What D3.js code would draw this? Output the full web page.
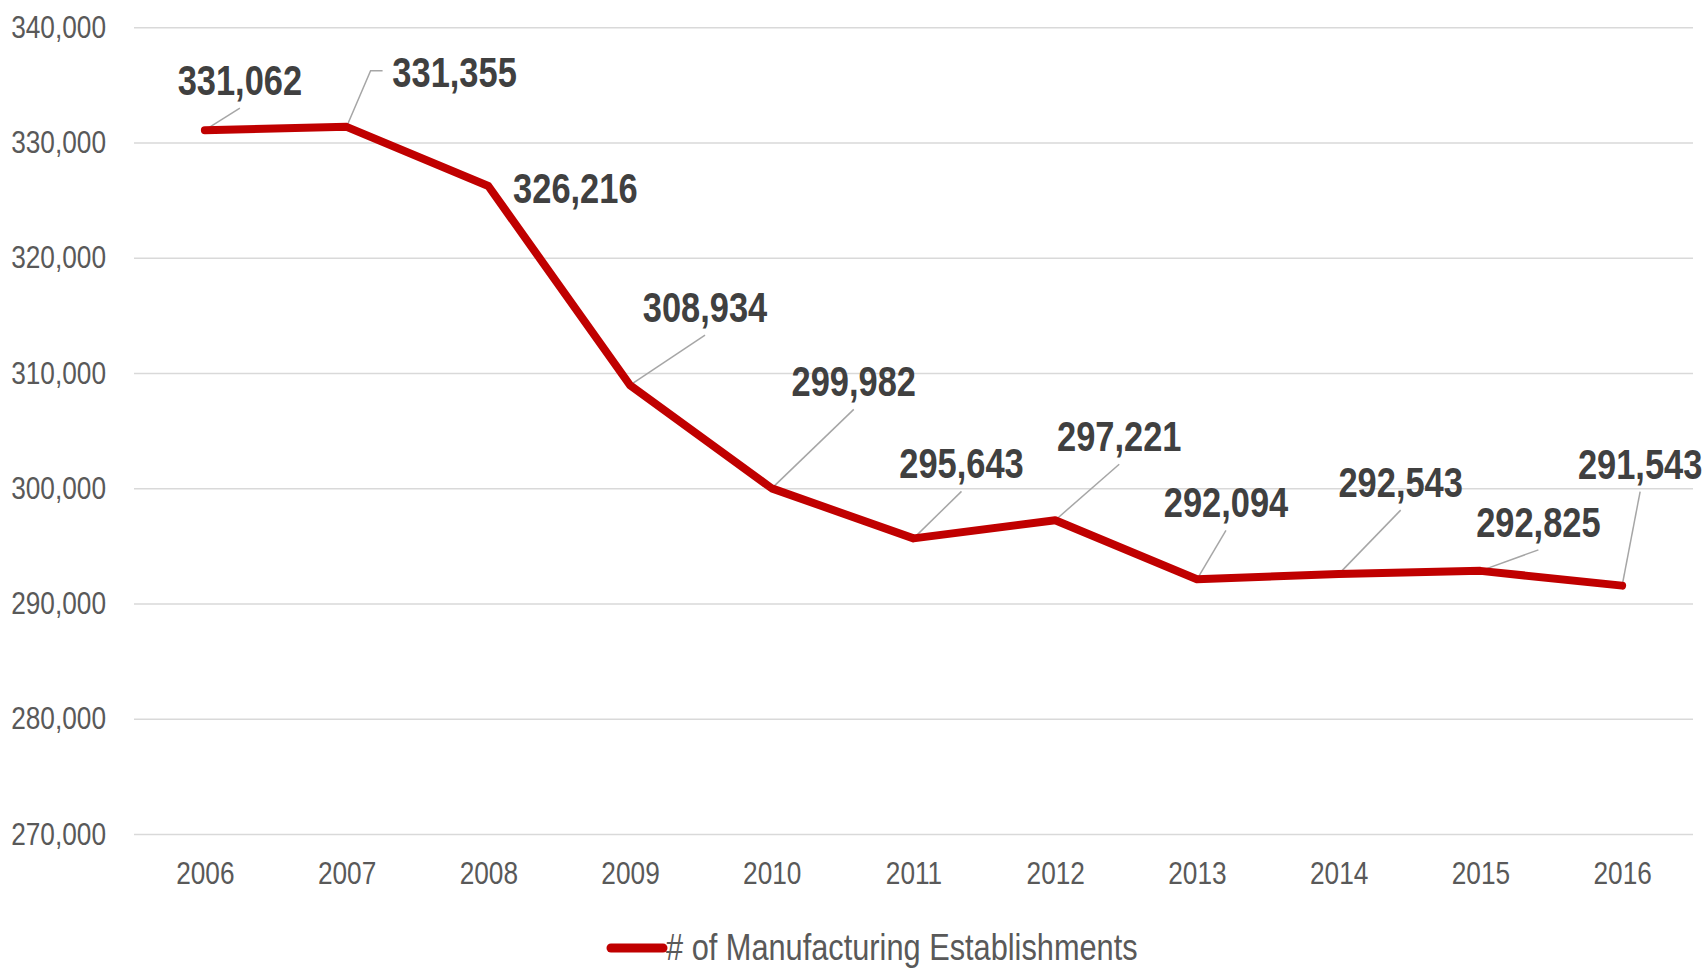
<!DOCTYPE html>
<html><head><meta charset="utf-8">
<script src="https://cdn.jsdelivr.net/npm/d3@7"></script>
<style>body{margin:0;background:#fff;} svg{display:block}</style>
</head><body><svg id="chart" width="1707" height="969"></svg>
<script>
// ---- data ----
const years = ["2006","2007","2008","2009","2010","2011","2012","2013","2014","2015","2016"];
const values = [331062, 331355, 326216, 308934, 299982, 295643, 297221, 292094, 292543, 292825, 291543];
const yTicks = [270000, 280000, 290000, 300000, 310000, 320000, 330000, 340000];
const seriesName = "# of Manufacturing Establishments";

// ---- annotation layout (label centre offset from point, leader type) ----
const labelOffsets = [[35,-50],[108,-55],[87,2],[75,-78],[82,-107],[48,-75],[64,-84],[29,-77],[62,-92],[58,-49],[18,-122]];
const leaderTypes = ["line","elbow","none","line","line","line","line","line","line","line","line"];

const W = 1707, H = 969;
const m = {left:134, right:1693, top:27.2, bottom:833.9};
const svg = d3.select("#chart");

// font detection: condensed face available?
function measure(fam){
  const t = svg.append("text").attr("font-family",fam).attr("font-size",32).text("340,000 Manufacturing");
  const w = t.node().getComputedTextLength(); t.remove(); return w;
}
const hasNarrow = measure("'Liberation Sans Narrow', monospace") !== measure("monospace");
const fam = hasNarrow ? "'Liberation Sans Narrow','Arial Narrow'" : "'Liberation Sans', Arial, sans-serif";
const sx = hasNarrow ? 1 : 0.82;

const x = d3.scalePoint().domain(years).range([m.left, m.right]).padding(0.5);
const y = d3.scaleLinear().domain([270000, 340000]).range([m.bottom, m.top]);

// y axis + gridlines
const yAxis = svg.append("g").attr("transform",`translate(${m.left},0)`)
  .call(d3.axisLeft(y).tickValues(yTicks).tickFormat(d3.format(",")).tickSizeInner(-(m.right-m.left)).tickSizeOuter(0).tickPadding(28));
yAxis.select(".domain").remove();
yAxis.selectAll(".tick line").attr("stroke","#d9d9d9").attr("stroke-width",1.5);
yAxis.selectAll(".tick text").attr("fill","#595959").attr("font-family",fam).attr("font-size",32)
  .attr("x", function(){ return +this.getAttribute("x")/sx; }).attr("transform",`scale(${sx},1)`);

// x axis
const xAxis = svg.append("g").attr("transform",`translate(0,${m.bottom})`)
  .call(d3.axisBottom(x).tickSize(0).tickPadding(27));
xAxis.select(".domain").remove();
xAxis.selectAll(".tick text").attr("fill","#595959").attr("font-family",fam).attr("font-size",32)
  .attr("transform",`scale(${sx},1)`);

// leader lines
const pts = years.map((yr,i)=>({yr, v:values[i], px:x(yr), py:y(values[i]), off:labelOffsets[i], lt:leaderTypes[i]}));
const leaders = svg.append("g").attr("stroke","#a6a6a6").attr("stroke-width",1.5).attr("fill","none");
pts.forEach(p=>{
  const cx = p.px+p.off[0], cy = p.py+p.off[1];
  if(p.lt==="line"){
    leaders.append("path").attr("d", d3.line()([[p.px,p.py],[cx,cy+28]]));
  } else if(p.lt==="elbow"){
    leaders.append("path").attr("d", d3.line()([[p.px,p.py],[cx-84,cy-1],[cx-72,cy-1]]));
  }
});

// series line
svg.append("path").datum(pts)
  .attr("d", d3.line().x(d=>d.px).y(d=>d.py))
  .attr("fill","none").attr("stroke","#c00000").attr("stroke-width",8)
  .attr("stroke-linejoin","round").attr("stroke-linecap","round");

// data labels
svg.append("g").selectAll("text").data(pts).join("text")
  .attr("transform", d=>`translate(${d.px+d.off[0]},${d.py+d.off[1]+15}) scale(${sx},1)`)
  .attr("text-anchor","middle").attr("font-family",fam).attr("font-weight","bold")
  .attr("font-size",42).attr("fill","#404040").text(d=>d3.format(",")(d.v));

// legend
const lg = svg.append("g");
lg.append("line").attr("x1",611).attr("x2",663).attr("y1",948).attr("y2",948)
  .attr("stroke","#c00000").attr("stroke-width",9).attr("stroke-linecap","round");
lg.append("text").attr("transform",`translate(666,960) scale(${sx},1)`)
  .attr("font-family",fam).attr("font-size",37.5).attr("fill","#595959").text(seriesName);
</script>
</body></html>
